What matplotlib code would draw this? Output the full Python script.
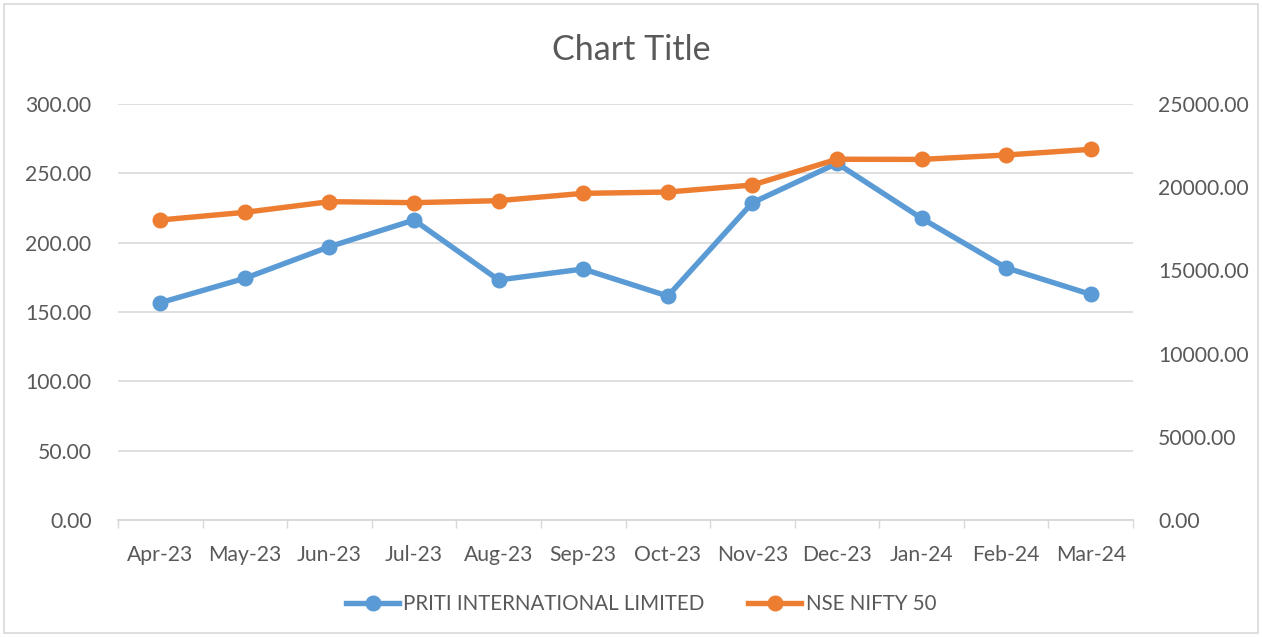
import matplotlib.pyplot as plt
from matplotlib.patches import Rectangle

months = ["Apr-23", "May-23", "Jun-23", "Jul-23", "Aug-23", "Sep-23",
          "Oct-23", "Nov-23", "Dec-23", "Jan-24", "Feb-24", "Mar-24"]
priti = [156.7, 174.3, 197.1, 216.3, 173.1, 181.0,
         161.5, 228.8, 257.2, 217.6, 181.9, 162.7]
nifty = [18030, 18490, 19130, 19070, 19190, 19630,
         19710, 20130, 21680, 21670, 21935, 22275]

left_ticks = [0, 50, 100, 150, 200, 250, 300]
right_ticks = [0, 5000, 10000, 15000, 20000, 25000]

BLUE = "#5B9BD5"
ORANGE = "#ED7D31"
TXT = "#595959"
GRID = "#D9D9D9"

plt.rcParams['font.family'] = ['Lato', 'DejaVu Sans']

fig = plt.figure(figsize=(12.62, 6.37), dpi=100)
fig.patches.append(Rectangle((4 / 1262, 4 / 637), 1254 / 1262, 629 / 637,
                             transform=fig.transFigure, fill=False,
                             edgecolor="#D9D9D9", linewidth=1.2))

ax = fig.add_axes([118 / 1262, 117 / 637, 1015 / 1262, 416 / 637])
ax2 = ax.twinx()

x = list(range(len(months)))
l1, = ax.plot(x, priti, color=BLUE, lw=3.9, marker='o', ms=10.5, zorder=3,
              label="PRITI INTERNATIONAL LIMITED")
l2, = ax2.plot(x, nifty, color=ORANGE, lw=3.9, marker='o', ms=10.5, zorder=3,
               label="NSE NIFTY 50")

ax.set_xlim(-0.5, 11.5)
ax.set_ylim(0, 300)
ax2.set_ylim(0, 25000)
ax.set_yticks(left_ticks)
ax.set_yticklabels([f"{v:.2f}" for v in left_ticks])
ax2.set_yticks(right_ticks)
ax2.set_yticklabels([f"{v:.2f}" for v in right_ticks])

ax.set_xticks([i - 0.5 for i in range(13)], minor=False)
ax.set_xticklabels([])
ax.set_xticks(x, minor=True)
ax.set_xticklabels(months, minor=True)
ax.tick_params(axis='x', which='major', length=6, color=GRID, width=1)
ax.tick_params(axis='x', which='minor', length=0, pad=18, labelsize=15.2,
               labelcolor=TXT)
ax.tick_params(axis='y', length=0, pad=19, labelsize=15.2, labelcolor=TXT)
ax2.tick_params(axis='y', length=0, pad=18, labelsize=15.2, labelcolor=TXT)

ax.grid(axis='y', color=GRID, lw=1.2)
ax.set_axisbelow(True)
for a in (ax, ax2):
    for s in ("top", "left", "right"):
        a.spines[s].set_visible(False)
    a.spines["bottom"].set_color(GRID)
    a.spines["bottom"].set_linewidth(1.2)

fig.text(0.5, 1 - 50 / 637, "Chart Title", ha='center', va='center',
         fontsize=24.5, color=TXT)

fig.legend(handles=[l1, l2], loc='center',
           bbox_to_anchor=(641 / 1262, 1 - 604 / 637),
           ncol=2, frameon=False, fontsize=14.8, labelcolor=TXT,
           handlelength=2.6, columnspacing=2.1, handletextpad=0.2)

fig.savefig("out.png", dpi=100)
